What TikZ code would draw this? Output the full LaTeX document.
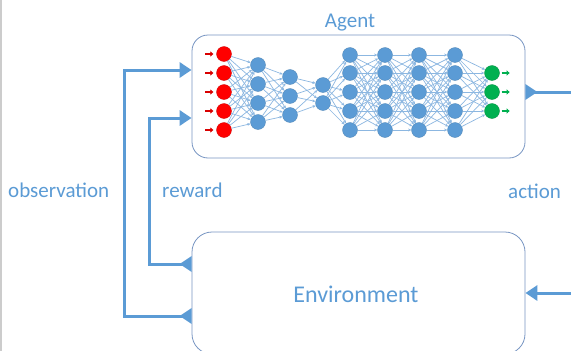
\documentclass[tikz,border=0pt]{standalone}
\usepackage{fontspec}
\setmainfont{Carlito}
\usetikzlibrary{arrows.meta,calc}
\definecolor{accent}{RGB}{91,155,213}
\definecolor{linkblue}{RGB}{140,183,225}
\definecolor{frame}{RGB}{120,150,195}
\definecolor{innode}{RGB}{255,0,0}
\definecolor{outnode}{RGB}{0,176,80}

\begin{document}
\begin{tikzpicture}[x=1pt,y=-1pt,
  neuron/.style={circle, minimum size=15pt, inner sep=0pt, draw=accent!85!black, line width=0.3pt, fill=accent},
  redneuron/.style={neuron, draw=innode!80!black, fill=innode},
  greenneuron/.style={neuron, draw=outnode!80!black, fill=outnode},
  link/.style={draw=linkblue, line width=0.7pt, -{Stealth[length=3.2pt,width=2.8pt]}},
  inarrow/.style={draw=innode!85!black, line width=2pt, -{Triangle[length=3pt,width=5pt]}},
  outarrow/.style={draw=outnode, line width=2pt, -{Triangle[length=3pt,width=5pt]}},
  panel/.style={draw=frame, line width=0.8pt, rounded corners=16pt, inner sep=0pt},
  flow/.style={draw=accent, line width=3pt},
  headin/.style={flow, -{Triangle[length=12pt,width=15pt]}},
  headout/.style={flow, {Triangle[length=12pt,width=15pt,reversed]}-},
  headboth/.style={flow, {Triangle[length=12pt,width=15pt,reversed]}-{Triangle[length=12pt,width=15pt]}},
  txt/.style={text=accent, inner sep=0pt, font=\fontsize{21}{24}\selectfont}]

\useasboundingbox (0,0) rectangle (571,351);
\fill[white] (0,0) rectangle (571,351);

% thin frame line on the left
\draw[black!20, line width=1.2pt] (1,0) -- (1,351);

% agent and environment panels
\node[panel, minimum width=333pt, minimum height=123pt] (agent) at (358.5,96.5) {};
\node[panel, rounded corners=20pt, minimum width=333pt, minimum height=122pt] (env) at (358.5,293) {};

% network layers
\foreach \y [count=\i] in {54,73,92,111,130} \node[redneuron] (a\i) at (224,\y) {};
\foreach \y [count=\i] in {65,84,103,122} \node[neuron] (b\i) at (258,\y) {};
\foreach \y [count=\i] in {77,96,115} \node[neuron] (c\i) at (290,\y) {};
\foreach \y [count=\i] in {85,103} \node[neuron] (d\i) at (323,\y) {};
\foreach \y [count=\i] in {55,73,92,111,130} \node[neuron] (e\i) at (350,\y) {};
\foreach \y [count=\i] in {55,73,92,111,130} \node[neuron] (f\i) at (385,\y) {};
\foreach \y [count=\i] in {55,73,92,111,130} \node[neuron] (g\i) at (419,\y) {};
\foreach \y [count=\i] in {55,73,92,111,130} \node[neuron] (h\i) at (455,\y) {};
\foreach \y [count=\i] in {73,92,111} \node[greenneuron] (k\i) at (492,\y) {};

% fully connected links
\foreach \i in {1,...,5} \foreach \j in {1,...,4} \draw[link] (a\i) -- (b\j);
\foreach \i in {1,...,4} \foreach \j in {1,...,3} \draw[link] (b\i) -- (c\j);
\foreach \i in {1,...,3} \foreach \j in {1,...,2} \draw[link] (c\i) -- (d\j);
\foreach \i in {1,...,2} \foreach \j in {1,...,5} \draw[link] (d\i) -- (e\j);
\foreach \i in {1,...,5} \foreach \j in {1,...,5} {
  \draw[link] (e\i) -- (f\j);
  \draw[link] (f\i) -- (g\j);
  \draw[link] (g\i) -- (h\j);
}
\foreach \i in {1,...,5} \foreach \j in {1,...,3} \draw[link] (h\i) -- (k\j);

% inputs and outputs
\foreach \i in {1,...,5} \draw[inarrow] ($(a\i.west)+(-11,0)$) -- ($(a\i.west)+(-3,0)$);
\foreach \i in {1,...,3} \draw[outarrow] ($(k\i.east)+(2,0)$) -- ($(k\i.east)+(10,0)$);

% observation and reward loops
\draw[headboth] (env.west |- 0,316) -| (124,70) -- (agent.west |- 0,70);
\draw[headboth] (env.west |- 0,264) -| (149,118) -- (agent.west |- 0,118);

% action leaves the agent, returns into the environment
\coordinate (actout) at (575,92);
\coordinate (actin) at (575,293);
\draw[headout] (agent.east |- 0,92) -- (actout);
\draw[headin] (actin) -- (env.east |- 0,293);

% captions
\node[txt, anchor=base] (agentlbl) at (350,27) {Agent};
\node[txt, anchor=base west] (obslbl) at (8,197) {observation};
\node[txt, anchor=base west] (rewlbl) at (162,197) {reward};
\node[txt, anchor=base west] (actlbl) at (508,198) {action};
\node[txt, anchor=base, font=\fontsize{24}{28}\selectfont] (envlbl) at (356,302) {Environment};
\end{tikzpicture}
\end{document}
